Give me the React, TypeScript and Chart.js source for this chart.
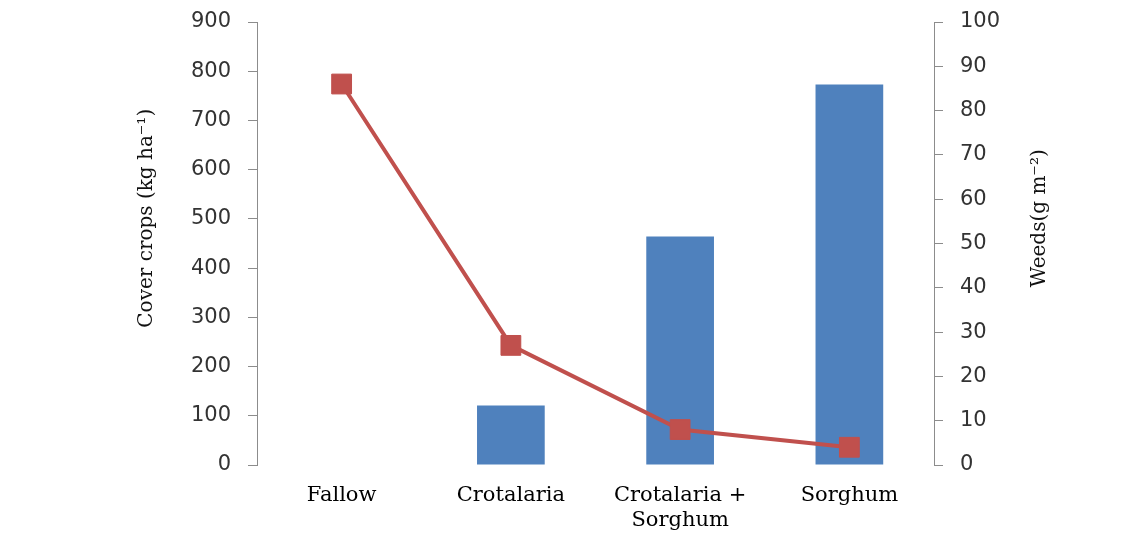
import React, { useEffect, useRef } from "react";
import { Chart, registerables } from "chart.js";

Chart.register(...registerables);

const categories: string[][] = [["Fallow"], ["Crotalaria"], ["Crotalaria +", "Sorghum"], ["Sorghum"]];
const coverCrops: number[] = [0, 121, 464, 773];
const weeds: number[] = [86, 27, 8, 4];
const leftTitle = "Cover crops (kg ha\u207B\u00B9)";
const rightTitle = "Weeds(g m\u207B\u00B2)";

const BAR_COLOR = "#4F81BD";
const LINE_COLOR = "#C0504D";
const AXIS_COLOR = "#8c8c8c";
const TICK_FONT = { family: "'DejaVu Sans', Verdana, sans-serif", size: 21 };
const SERIF = "'DejaVu Serif', 'Liberation Serif', serif";

const axisTitlesPlugin = {
  id: "axisTitles",
  afterDraw(chart: any) {
    const { ctx, chartArea } = chart;
    const cy = chartArea.top + (chartArea.bottom - chartArea.top) * 0.443;
    ctx.save();
    ctx.font = `20px ${SERIF}`;
    ctx.fillStyle = "#111";
    ctx.textAlign = "center";
    ctx.textBaseline = "middle";
    ctx.save();
    ctx.translate(chartArea.left - 110, cy);
    ctx.rotate(-Math.PI / 2);
    ctx.fillText(leftTitle, 0, 0);
    ctx.restore();
    ctx.save();
    ctx.translate(chartArea.right + 106, cy);
    ctx.rotate(-Math.PI / 2);
    ctx.fillText(rightTitle, 0, 0);
    ctx.restore();
    ctx.restore();
  },
};

export default function App() {
  const ref = useRef<HTMLCanvasElement | null>(null);

  useEffect(() => {
    if (!ref.current) return;
    const chart = new Chart(ref.current, {
      type: "bar",
      data: {
        labels: categories,
        datasets: [
          {
            type: "line",
            label: "Weeds",
            data: weeds,
            yAxisID: "y1",
            borderColor: LINE_COLOR,
            backgroundColor: LINE_COLOR,
            borderWidth: 4,
            pointStyle: "rect",
            pointRadius: 14,
            pointBorderWidth: 1,
            pointBorderColor: LINE_COLOR,
            pointBackgroundColor: LINE_COLOR,
            tension: 0,
            order: 0,
          } as any,
          {
            type: "bar",
            label: "Cover crops",
            data: coverCrops,
            yAxisID: "y",
            backgroundColor: BAR_COLOR,
            borderWidth: 0,
            categoryPercentage: 1,
            barPercentage: 0.4,
            order: 1,
          },
        ],
      },
      options: {
        responsive: false,
        animation: false,
        layout: { padding: { top: 22, left: 0, right: 0, bottom: 0 } },
        plugins: {
          legend: { display: false },
          tooltip: { enabled: false },
        },
        scales: {
          x: {
            grid: { display: false, drawTicks: false },
            border: { display: false },
            ticks: {
              color: "#000",
              font: { family: SERIF, size: 21 },
              padding: 18,
              maxRotation: 0,
              autoSkip: false,
            },
            afterFit: (scale: any) => {
              scale.height = 70;
            },
          },
          y: {
            position: "left",
            min: 0,
            max: 900,
            ticks: { stepSize: 100, color: "#333", font: TICK_FONT, padding: 17 },
            grid: { display: true, drawOnChartArea: false, drawTicks: true, tickLength: 9, color: AXIS_COLOR },
            border: { display: true, color: AXIS_COLOR, width: 1 },
            afterFit: (scale: any) => {
              scale.width = 257;
              scale.paddingTop = 0;
              scale.paddingBottom = 0;
            },
          },
          y1: {
            position: "right",
            min: 0,
            max: 100,
            ticks: { stepSize: 10, color: "#333", font: TICK_FONT, padding: 17 },
            grid: { display: true, drawOnChartArea: false, drawTicks: true, tickLength: 9, color: AXIS_COLOR },
            border: { display: true, color: AXIS_COLOR, width: 1 },
            afterFit: (scale: any) => {
              scale.width = 211;
              scale.paddingTop = 0;
              scale.paddingBottom = 0;
            },
          },
        },
      },
      plugins: [axisTitlesPlugin],
    });
    return () => chart.destroy();
  }, []);

  return (
    <canvas
      ref={ref}
      width={1145}
      height={535}
      style={{ position: "absolute", left: 0, top: 0, display: "block", background: "#fff" }}
    />
  );
}
